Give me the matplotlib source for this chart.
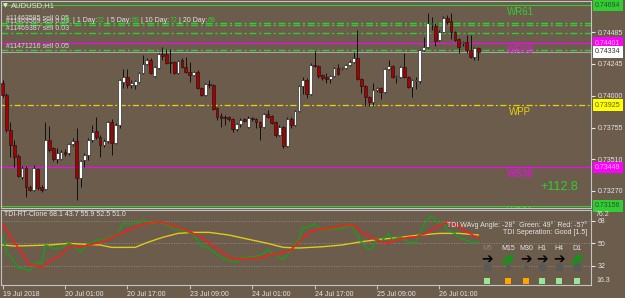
import matplotlib

matplotlib.use("Agg", force=True)

import matplotlib.pyplot as plt
import numpy as np
from matplotlib.patches import Rectangle

plt.rcParams["font.family"] = ["Liberation Sans", "DejaVu Sans"]

W, H = 625, 298
BG = "#6b5c4c"
FG = "#e6e6e6"
FRAME = "#c4c4c4"
LIME = "#32cd32"
MAGENTA = "#ff00ff"
YELLOW = "#e8d400"

symbol = "AUDUSD"
timeframe = "H1"

# ---- H1 candles ----
opens = [0.74096, 0.74004, 0.73736, 0.73621, 0.73537, 0.73375, 0.73444, 0.73299, 0.73276, 0.73437,
         0.73299, 0.73283, 0.73659, 0.73598, 0.73514, 0.73514, 0.73567, 0.73560, 0.73629, 0.73652,
         0.73368, 0.73506, 0.73544, 0.73659, 0.73728, 0.73682, 0.73621, 0.73652, 0.73797, 0.73636,
         0.73774, 0.74104, 0.74142, 0.74081, 0.74081, 0.74104, 0.74173, 0.74242, 0.74273, 0.74150,
         0.74211, 0.74319, 0.74319, 0.74258, 0.74258, 0.74173, 0.74273, 0.74219, 0.74181, 0.74158,
         0.74181, 0.74058, 0.74004, 0.74089, 0.74081, 0.73905, 0.73843, 0.73836, 0.73836, 0.73820,
         0.73744, 0.73782, 0.73820, 0.73759, 0.73828, 0.73820, 0.73797, 0.73759, 0.73859, 0.73843,
         0.73797, 0.73698, 0.73759, 0.73613, 0.73820, 0.73774, 0.73882, 0.74073, 0.74119, 0.74012,
         0.74234, 0.74227, 0.74158, 0.74142, 0.74127, 0.74150, 0.74211, 0.74204, 0.74211, 0.74234,
         0.74258, 0.74288, 0.74127, 0.74073, 0.73989, 0.73951, 0.74043, 0.74058, 0.74027, 0.74204,
         0.74227, 0.74142, 0.74142, 0.74219, 0.74142, 0.74066, 0.74112, 0.74112, 0.74350, 0.74373,
         0.74549, 0.74534, 0.74426, 0.74488, 0.74595, 0.74572, 0.74488, 0.74434, 0.74403, 0.74411,
         0.74350, 0.74296, 0.74365]
highs = [0.74119, 0.74020, 0.73797, 0.73659, 0.73552, 0.73460, 0.73460, 0.73314, 0.73467, 0.73444,
         0.73314, 0.73797, 0.73767, 0.73606, 0.73598, 0.73583, 0.73590, 0.73636, 0.73675, 0.73751,
         0.73506, 0.73560, 0.73675, 0.73774, 0.73836, 0.73698, 0.73667, 0.73805, 0.73820, 0.73790,
         0.74127, 0.74204, 0.74204, 0.74119, 0.74119, 0.74181, 0.74311, 0.74288, 0.74288, 0.74227,
         0.74327, 0.74373, 0.74357, 0.74357, 0.74265, 0.74273, 0.74288, 0.74296, 0.74258, 0.74188,
         0.74196, 0.74066, 0.74096, 0.74119, 0.74089, 0.73912, 0.73866, 0.73851, 0.73843, 0.73828,
         0.73790, 0.73828, 0.73828, 0.73843, 0.73836, 0.73828, 0.73805, 0.73866, 0.73889, 0.73851,
         0.73805, 0.73774, 0.73767, 0.73836, 0.73836, 0.73889, 0.74081, 0.74142, 0.74135, 0.74250,
         0.74342, 0.74234, 0.74165, 0.74173, 0.74158, 0.74219, 0.74242, 0.74219, 0.74242, 0.74273,
         0.74334, 0.74503, 0.74135, 0.74081, 0.73997, 0.74096, 0.74066, 0.74066, 0.74211, 0.74273,
         0.74234, 0.74158, 0.74227, 0.74327, 0.74150, 0.74127, 0.74142, 0.74357, 0.74449, 0.74633,
         0.74603, 0.74557, 0.74503, 0.74610, 0.74618, 0.74633, 0.74495, 0.74442, 0.74419, 0.74465,
         0.74465, 0.74373, 0.74373]
lows = [0.73989, 0.73721, 0.73529, 0.73452, 0.73375, 0.73360, 0.73222, 0.73268, 0.73268, 0.73276,
        0.73260, 0.73276, 0.73567, 0.73498, 0.73483, 0.73506, 0.73537, 0.73544, 0.73613, 0.73199,
        0.73299, 0.73452, 0.73506, 0.73644, 0.73667, 0.73529, 0.73606, 0.73636, 0.73544, 0.73629,
        0.73751, 0.74058, 0.74058, 0.74058, 0.74050, 0.74096, 0.74165, 0.74234, 0.74165, 0.74142,
        0.74204, 0.74273, 0.74242, 0.74173, 0.74165, 0.74165, 0.74211, 0.74173, 0.74104, 0.74150,
        0.74050, 0.73997, 0.73997, 0.74058, 0.73889, 0.73813, 0.73759, 0.73774, 0.73805, 0.73721,
        0.73728, 0.73759, 0.73797, 0.73751, 0.73805, 0.73751, 0.73659, 0.73751, 0.73828, 0.73782,
        0.73682, 0.73690, 0.73598, 0.73606, 0.73751, 0.73767, 0.73874, 0.74012, 0.73981, 0.74004,
        0.74219, 0.74135, 0.74119, 0.74096, 0.74096, 0.74142, 0.74158, 0.74196, 0.74204, 0.74227,
        0.74250, 0.74119, 0.74020, 0.73920, 0.73920, 0.73920, 0.74027, 0.73974, 0.74020, 0.74196,
        0.74135, 0.74096, 0.74135, 0.74135, 0.74058, 0.73989, 0.74050, 0.74096, 0.74342, 0.74365,
        0.74503, 0.74380, 0.74419, 0.74480, 0.74549, 0.74434, 0.74419, 0.74327, 0.74380, 0.74327,
        0.74288, 0.74273, 0.74273]
closes = [0.74004, 0.73736, 0.73621, 0.73529, 0.73383, 0.73444, 0.73299, 0.73276, 0.73444, 0.73291,
          0.73276, 0.73659, 0.73583, 0.73514, 0.73560, 0.73567, 0.73552, 0.73629, 0.73652, 0.73368,
          0.73498, 0.73544, 0.73659, 0.73721, 0.73682, 0.73621, 0.73652, 0.73797, 0.73636, 0.73774,
          0.74119, 0.74142, 0.74081, 0.74096, 0.74112, 0.74173, 0.74242, 0.74273, 0.74173, 0.74219,
          0.74319, 0.74304, 0.74250, 0.74250, 0.74173, 0.74265, 0.74219, 0.74181, 0.74158, 0.74181,
          0.74058, 0.74004, 0.74089, 0.74081, 0.73897, 0.73836, 0.73828, 0.73828, 0.73820, 0.73744,
          0.73782, 0.73813, 0.73805, 0.73828, 0.73820, 0.73797, 0.73759, 0.73859, 0.73836, 0.73790,
          0.73698, 0.73759, 0.73613, 0.73820, 0.73774, 0.73882, 0.74073, 0.74119, 0.74012, 0.74234,
          0.74227, 0.74150, 0.74135, 0.74127, 0.74150, 0.74211, 0.74165, 0.74211, 0.74234, 0.74258,
          0.74288, 0.74127, 0.74073, 0.73989, 0.73951, 0.74043, 0.74058, 0.74027, 0.74204, 0.74227,
          0.74142, 0.74150, 0.74219, 0.74142, 0.74066, 0.74119, 0.74119, 0.74350, 0.74373, 0.74557,
          0.74557, 0.74419, 0.74488, 0.74595, 0.74564, 0.74488, 0.74426, 0.74373, 0.74411, 0.74350,
          0.74296, 0.74365, 0.74334]

time_ticks = [0, 16, 32, 48, 64, 80, 96, 112]
time_labels = ["19 Jul 2018", "20 Jul 01:00", "20 Jul 17:00", "23 Jul 09:00",
               "24 Jul 01:00", "24 Jul 17:00", "25 Jul 09:00", "26 Jul 01:00"]

# ---- levels ----
wr61, wr38, wpp, ws38, ws61 = 0.74694, 0.74401, 0.73925, 0.73449, 0.73156
bid = 0.74334
price_ticks = [0.74485, 0.74245, 0.74000, 0.73755, 0.73510, 0.73270]
order_tickets = ["#11463585", "#11463569", "#11469387", "#11471216"]
order_lots = [0.05, 0.03, 0.03, 0.05]
order_prices = [0.74559, 0.74539, 0.74482, 0.74347]
profit_pips = 112.8
adr_today = 98
adr_periods = ["1 Day", "5 Day", "10 Day", "20 Day"]
adr_values = [72, 89, 72, 69]

# ---- TDI sub-window ----
tdi_header = [68.1, 43.7, 55.9, 52.5, 51.0]
green_x = [0, 1, 3, 4, 5, 7, 8, 9, 10, 11, 13, 15, 17, 18, 20, 22, 23, 24, 26, 28,
           29, 31, 32, 35, 36, 37, 39, 40, 41, 43, 44, 46, 47, 49, 51, 52, 54, 56, 58, 60,
           61, 63, 65, 67, 68, 69, 71, 72, 74, 75, 76, 77, 78, 80, 81, 82, 84, 87, 89, 90,
           92, 94, 95, 96, 97, 99, 100, 102, 104, 106, 107, 109, 110, 112, 113, 114, 116, 117, 119, 121,
           122]
green_y = [55, 43, 35, 29.7, 29.7, 27.9, 32.4, 35, 33, 48.4, 45.7, 46, 49.7, 48.4, 43, 49.7, 49.7, 52.4, 52.4, 55.6,
           55, 65.7, 65, 65.7, 68.4, 67, 65.2, 67, 66, 63, 61, 60.5, 59.5, 57, 47, 47.6, 43, 38.5, 36.4, 34.6,
           37.7, 39, 39, 41.7, 45, 41.7, 39, 37, 44.4, 49.7, 52.4, 63, 62, 65.2, 63, 60.4, 61, 61.7, 64.4, 61.7,
           51, 44.4, 47, 53.7, 51, 57.7, 52.4, 55, 51, 50.3, 57.7, 69.7, 71.6, 64.4, 67, 60.4, 57.7, 54.5, 52, 50.3,
           51]
red_x = [0, 2, 5, 7, 10, 12, 15, 17, 20, 23, 25, 28, 30, 33, 35, 38, 41, 43, 46, 48,
         51, 53, 56, 58, 60, 64, 66, 69, 71, 74, 76, 79, 81, 84, 86, 88, 90, 92, 94, 97,
         99, 101, 104, 106, 109, 112, 114, 117, 119, 122]
red_y = [65, 55, 42, 32.4, 31, 35, 40.4, 47.6, 47, 49, 50.3, 54.5, 57.2, 61.2, 64.4, 66.3, 66.8, 64.4, 61.7, 59,
         55, 49.7, 43, 38.5, 37, 37.7, 38.2, 41, 41, 44.4, 51, 59, 61, 61.7, 63.5, 64.4, 64.4, 59, 55, 51,
         49.7, 52.4, 54.5, 55, 58.1, 64.4, 66.2, 63.5, 59, 54]
yellow_x = [0, 3, 8, 12, 17, 21, 25, 28, 34, 37, 41, 45, 49, 53, 58, 63, 68, 72, 76, 82,
            87, 92, 97, 102, 107, 112, 117, 122]
yellow_y = [48.4, 47.6, 48, 48.4, 49.7, 49, 48.4, 46.5, 46.5, 50.3, 54.5, 57.7, 58.5, 58.5, 56.4, 53, 49.7, 46.5, 46, 47,
            48.4, 51, 53, 54.5, 56.4, 57.7, 57.7, 56.4]
tdi_levels = [68, 50, 32]
tdi_top, tdi_bottom = 76.2, 16.3

wavg_angle, green_angle, red_angle = -28, 49, -57
separation, separation_value = "Good", 1.5
tf_names = ["M5", "M15", "M30", "H1", "H4", "D1"]
tf_trend = ["flat", "up", "flat", "flat", "flat", "up"]
tf_dot_big = [True, False, False, True, True, True]
tf_state = ["#98e698", "#ffa500", "#ffa500", "#98e698", "#98e698", "#98e698"]


def frame_box(left, top, right, bottom):
    return [left / W, 1 - bottom / H, (right - left) / W, (bottom - top) / H]


def style_frame(a):
    a.set_facecolor(BG)
    for s in a.spines.values():
        s.set_color(FRAME)
        s.set_linewidth(0.8)


fig = plt.figure(figsize=(W / 100, H / 100), dpi=100, facecolor=BG)
ax = fig.add_axes(frame_box(1, 1, 591, 208))
ax2 = fig.add_axes(frame_box(1, 210, 591, 285))
style_frame(ax)
style_frame(ax2)

# candles
o = np.array(opens)
h = np.array(highs)
l = np.array(lows)
c = np.array(closes)
idx = np.arange(len(o))
up = c >= o
ax.vlines(idx, l, h, color="#111111", lw=0.7, zorder=3)
ax.bar(idx, np.maximum(np.abs(c - o), 0.00002), bottom=np.minimum(o, c), width=0.72,
       color=np.where(up, "white", "#a80000"), edgecolor="#111111", linewidth=0.4, zorder=4)

# pivot levels and order lines
dashdot = (0, (5, 2, 1.5, 2))
ax.axhline(wr61, color=LIME, lw=0.8, zorder=2)
ax.axhline(ws61, color=LIME, lw=0.8, zorder=2)
ax.axhline(wr38, color=MAGENTA, lw=0.8, zorder=2)
ax.axhline(ws38, color=MAGENTA, lw=0.8, zorder=2)
ax.axhline(wpp, color=YELLOW, lw=0.9, ls=dashdot, zorder=2)
ax.axhline(bid, color="#a8a8a8", lw=0.8, zorder=2)
for p in order_prices:
    ax.axhline(p, color=LIME, lw=1.0, ls=dashdot, zorder=2)

ax.set_xlim(-0.4, 150.9)
ax.set_ylim(0.73138, 0.74725)
ax.tick_params(axis="x", bottom=False, labelbottom=False)
ax.yaxis.tick_right()
ax.set_yticks(price_ticks, [f"{p:.5f}" for p in price_ticks])
ax.tick_params(axis="y", length=3, color=FG, labelcolor=FG, labelsize=5, pad=1.5)

ytr = ax.get_yaxis_transform()
for name, lvl, col in [("WR61", wr61, LIME), ("WR38", wr38, MAGENTA), ("WPP", wpp, YELLOW),
                       ("WS38", ws38, MAGENTA), ("WS61", ws61, LIME)]:
    ax.annotate(name, xy=(0.88, lvl), xycoords=ytr, xytext=(0, -1.2), textcoords="offset points",
                ha="center", va="top", fontsize=7, color=col, annotation_clip=False, clip_on=True)

for t, lot, p in zip(order_tickets, order_lots, order_prices):
    ax.annotate(f"{t} sell {lot:.2f}", xy=(0.0085, p), xycoords=ytr, xytext=(0, 1.6),
                textcoords="offset points", ha="left", va="baseline", fontsize=5, color="#d8d8d8")

for lvl, fc, tc in [(wr61, LIME, "#2f4f2f"), (wr38, MAGENTA, "#ffc4ff"), (bid, "white", "#333333"),
                    (wpp, "#ffff00", "#5a5a2a"), (ws38, MAGENTA, "#ffc4ff"), (ws61, LIME, "#2f4f2f")]:
    ax.text(1.007, lvl, f"{lvl:.5f}", transform=ytr, ha="left", va="center", fontsize=5, color=tc,
            bbox=dict(boxstyle="square,pad=0.35", fc=fc, ec="none"), zorder=6, clip_on=False)

# TDI
for lv in tdi_levels:
    ax2.axhline(lv, color="#9a9a9a", lw=0.6, ls=(0, (1, 2)))
ax2.plot(yellow_x, yellow_y, color="#dccb1c", lw=1.0)
ax2.plot(green_x, green_y, color="#1e9a1e", lw=1.1)
ax2.plot(red_x, red_y, color="#ff1a1a", lw=1.1)
ax2.set_xlim(-0.4, 150.9)
ax2.set_ylim(16.4, 76.4)
ax2.yaxis.tick_right()
ax2.set_yticks(tdi_levels, [str(v) for v in tdi_levels])
ax2.tick_params(axis="y", length=3, color=FG, labelcolor=FG, labelsize=5, pad=1.5)
ax2.set_xticks(time_ticks, time_labels, fontsize=5, color=FG, ha="left")
ax2.tick_params(axis="x", length=3, color=FRAME, pad=1)

# overlay in pixel coordinates for the text furniture
ov = fig.add_axes([0, 0, 1, 1])
ov.set_xlim(0, W)
ov.set_ylim(H, 0)
ov.axis("off")

ov.text(3, 6, "\u25bc", fontsize=4.5, color=FG, va="center", family=["DejaVu Sans"])
ov.text(11, 6, f"{symbol},{timeframe}", fontsize=5.5, color=FG, va="center")

renderer = fig.canvas.get_renderer()
pieces = [(str(adr_today), LIME)]
for per, val in zip(adr_periods, adr_values):
    pieces += [(f" | {per}:", FG), (str(val), LIME)]
x = 63
for txt, col in pieces:
    t = ov.text(x, 20, txt, fontsize=5, color=col, va="center", ha="left")
    x += t.get_window_extent(renderer).width

ov.text(559, 187, f"+{profit_pips:.1f}", fontsize=9, color=LIME, ha="center", va="center")

ov.text(4, 215, "TDI-RT-Clone " + " ".join(f"{v:.1f}" for v in tdi_header),
        fontsize=5, color=FG, va="center")
ov.text(596, 214, f"{tdi_top}", fontsize=5, color=FG, va="center")
ov.text(596, 280, f"{tdi_bottom}", fontsize=5, color=FG, va="center")
ov.text(587, 225, f"TDI WAvg Angle: {wavg_angle}\u00b0  Green: {green_angle}\u00b0  Red: {red_angle}\u00b0",
        fontsize=5, color=FG, ha="right", va="center")
ov.text(587, 233, f"TDI Seperation: {separation} [{separation_value}]",
        fontsize=5, color=FG, ha="right", va="center")

tf_x = [487, 508, 526, 542, 559, 577]
for xc, name, trend, big, state in zip(tf_x, tf_names, tf_trend, tf_dot_big, tf_state):
    ov.text(xc, 248, name, fontsize=5, color="#8c8478" if name == "M5" else FG, ha="center", va="center")
    if trend == "up":
        ov.annotate("", xy=(xc + 5, 255), xytext=(xc - 4, 264),
                    arrowprops=dict(arrowstyle="simple,head_width=1.0,head_length=0.8,tail_width=0.4",
                                    color="#1e8c1e", mutation_scale=6, shrinkA=0, shrinkB=0))
    else:
        ov.text(xc, 259, "\u2794", fontsize=10, color="black", ha="center", va="center",
                family=["DejaVu Sans"], fontweight="bold")
    ov.scatter([xc], [267], s=(26 if big else 5), color="#595959", zorder=5)
    ov.add_patch(Rectangle((xc - 3, 278), 6, 6, fc=state, ec="none"))

fig.savefig("out.png", dpi=100, facecolor=BG)
